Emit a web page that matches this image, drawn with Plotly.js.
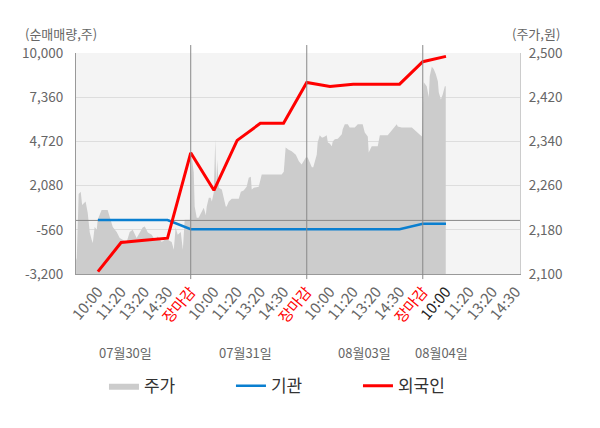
<!DOCTYPE html>
<html>
<head>
<meta charset="utf-8">
<script src="https://cdn.plot.ly/plotly-3.0.1.min.js"></script>
<style>
  html, body { margin: 0; padding: 0; background: #fff; }
  #myDiv { width: 600px; height: 428px; }
</style>
</head>
<body>
<div id="myDiv"></div>
<script>
// x positions are in label slots: 10:00 = 1, 11:20 = 2 ... 장마감 = 5, next day 10:00 = 6
const sessionLabels = ['10:00', '11:20', '13:20', '14:30', '장마감'];
const lastDayLabels = ['10:00', '11:20', '13:20', '14:30'];
const dayNames = ['07월30일', '07월31일', '08월03일', '08월04일'];
const dayNamePos = [2.17, 7.34, 12.51, 15.79];
const dayEnds = [5, 10, 15];

const leftTicks = [-3200, -560, 2080, 4720, 7360, 10000];
const rightTicks = [2100, 2180, 2260, 2340, 2420, 2500];

// 주가 (원), intraday
const priceX = [0.06, 0.09, 0.17, 0.26, 0.32, 0.47, 0.56, 0.65, 0.73, 0.78, 0.86, 0.95, 0.99,
  1.16, 1.42, 1.51, 1.64, 1.81, 1.94, 2.07, 2.24, 2.37, 2.50, 2.67, 2.80, 2.93, 3.02,
  3.15, 3.32, 3.45, 3.58, 3.75, 3.88, 4.01, 4.18, 4.27, 4.35, 4.44, 4.57, 4.66, 4.74, 4.96,
  5.04, 5.13, 5.17, 5.26, 5.34, 5.47, 5.56, 5.65, 5.69, 5.78, 5.86, 5.91, 5.99, 6.06, 6.10,
  6.14, 6.21, 6.34, 6.42, 6.51, 6.55, 6.64, 6.77, 7.07, 7.16, 7.28, 7.41, 7.50, 7.59, 7.63,
  7.72, 7.93, 8.06, 8.92, 9.01, 9.09, 9.22, 9.35, 9.53, 9.66, 9.78, 9.96,
  10.04, 10.13, 10.22, 10.28, 10.34, 10.43, 10.47, 10.56, 10.65, 10.69, 10.78, 10.86, 10.91,
  10.99, 11.08, 11.12, 11.21, 11.34, 11.51, 11.55, 11.64, 11.77, 11.85, 12.07, 12.20, 12.41,
  12.50, 12.63, 12.67, 12.80, 13.06, 13.15, 13.49, 13.58, 13.71, 13.88, 13.92, 14.09, 14.53,
  14.66, 14.78, 14.96,
  15.04, 15.17, 15.26, 15.30, 15.39, 15.47, 15.56, 15.65, 15.69, 15.78, 15.86, 15.95, 15.99];
const priceY = [2125, 2129, 2245, 2249, 2225, 2231, 2211, 2175, 2162, 2156, 2185, 2180, 2198,
  2216, 2216, 2204, 2185, 2176, 2165, 2162, 2158, 2176, 2180, 2165, 2175, 2184, 2186,
  2175, 2171, 2162, 2168, 2158, 2162, 2162, 2158, 2144, 2184, 2171, 2176, 2144, 2198, 2198,
  2313, 2284, 2222, 2202, 2202, 2213, 2220, 2207, 2222, 2238, 2238, 2231, 2247, 2344, 2260,
  2307, 2256, 2253, 2235, 2222, 2222, 2231, 2236, 2236, 2249, 2251, 2258, 2274, 2276, 2253,
  2256, 2258, 2280, 2280, 2285, 2329, 2325, 2322, 2316, 2304, 2298, 2311,
  2311, 2302, 2293, 2293, 2302, 2316, 2338, 2351, 2347, 2347, 2349, 2351, 2338,
  2336, 2331, 2340, 2344, 2345, 2353, 2362, 2371, 2371, 2365, 2365, 2371, 2371,
  2356, 2349, 2320, 2331, 2331, 2351, 2351, 2356, 2362, 2371, 2367, 2365, 2365,
  2360, 2356, 2349,
  2447, 2440, 2420, 2458, 2475, 2471, 2462, 2449, 2429, 2416, 2425, 2440, 2440];

// 순매매량 (주), cumulative per time slot
const flowX = [1, 2, 3, 4, 5, 6, 7, 8, 9, 10, 11, 12, 13, 14, 15, 16];
const institution = [20, 20, 20, 20, -520, -520, -520, -520, -520, -520, -520, -520, -520, -520, -200, -200];
const foreigner = [-3060, -1320, -1190, -1060, 4040, 1800, 4780, 5800, 5800, 8240, 8000, 8140, 8140, 8140, 9480, 9800];

const xRange = [0.056, 19.19];
const fontFam = '"Noto Sans CJK KR", "Noto Sans", sans-serif';

function comma(v) {
  return (v < 0 ? '-' : '') + Math.abs(v).toString().replace(/\B(?=(\d{3})+(?!\d))/g, ',');
}

var tickVals = [], tickText = [];
var slot = 1;
for (var d = 0; d < 3; d++) {
  sessionLabels.forEach(function (s) {
    tickVals.push(slot++);
    tickText.push(s === '장마감' ? '<span style="color:#ff0000">' + s + '</span>' : s);
  });
}
lastDayLabels.forEach(function (s, i) {
  tickVals.push(slot++);
  tickText.push(i === 0 ? '<span style="color:#222">' + s + '</span>' : s);
});

var tracePrice = {
  x: priceX,
  y: priceY,
  name: '주가',
  type: 'scatter',
  mode: 'lines',
  fill: 'tozeroy',
  fillcolor: '#cccccc',
  line: {width: 0, color: '#cccccc'},
  yaxis: 'y',
  hoverinfo: 'skip'
};

var traceZero = {
  x: xRange,
  y: [0, 0],
  type: 'scatter',
  mode: 'lines',
  line: {width: 1, color: '#888888'},
  yaxis: 'y2',
  showlegend: false,
  hoverinfo: 'skip'
};

var traceInst = {
  x: flowX,
  y: institution,
  name: '기관',
  type: 'scatter',
  mode: 'lines',
  line: {width: 2.5, color: '#0a7fd0'},
  yaxis: 'y2'
};

var traceForeign = {
  x: flowX,
  y: foreigner,
  name: '외국인',
  type: 'scatter',
  mode: 'lines',
  line: {width: 3, color: '#ff0000'},
  yaxis: 'y2'
};

var shapes = dayEnds.map(function (v) {
  return {
    type: 'line', xref: 'x', yref: 'paper',
    x0: v, x1: v, y0: -0.023, y1: 1.036,
    line: {color: '#888888', width: 1}
  };
});

var annotations = dayNames.map(function (t, i) {
  return {
    text: t, xref: 'x', yref: 'paper', x: dayNamePos[i], y: -0.357,
    showarrow: false, xanchor: 'center', yanchor: 'middle',
    font: {size: 13, color: '#666666'}
  };
});
annotations.push({
  text: '(순매매량,주)', xref: 'paper', yref: 'paper', x: -0.12, y: 1.09,
  showarrow: false, xanchor: 'left', yanchor: 'middle', font: {size: 13, color: '#666666'}
});
annotations.push({
  text: '(주가,원)', xref: 'paper', yref: 'paper', x: 1.094, y: 1.09,
  showarrow: false, xanchor: 'right', yanchor: 'middle', font: {size: 13, color: '#666666'}
});

var layout = {
  width: 600,
  height: 428,
  margin: {l: 76, r: 80, t: 53, b: 154},
  paper_bgcolor: '#ffffff',
  plot_bgcolor: '#f4f4f4',
  font: {family: fontFam, size: 13, color: '#666666'},
  showlegend: true,
  legend: {
    orientation: 'h',
    x: 0.063, xanchor: 'left',
    y: -0.508, yanchor: 'middle',
    entrywidth: 82, entrywidthmode: 'pixels',
    font: {size: 17, color: '#333333'},
    bgcolor: 'rgba(0,0,0,0)'
  },
  xaxis: {
    range: xRange,
    tickmode: 'array',
    tickvals: tickVals,
    ticktext: tickText,
    tickangle: -50,
    ticks: '',
    showgrid: false,
    zeroline: false,
    showline: true,
    linecolor: '#999999',
    ticklabelstandoff: 2,
    tickfont: {size: 15, color: '#666666'}
  },
  yaxis: {
    side: 'right',
    range: [2100, 2500],
    tickmode: 'array',
    tickvals: rightTicks,
    ticktext: rightTicks.map(comma),
    showgrid: true,
    gridcolor: '#dddddd',
    zeroline: false,
    showline: true,
    linecolor: '#cccccc',
    ticks: '',
    ticklabelstandoff: 5,
    tickfont: {size: 13.5, color: '#666666'}
  },
  yaxis2: {
    overlaying: 'y',
    side: 'left',
    range: [-3200, 10000],
    tickmode: 'array',
    tickvals: leftTicks,
    ticktext: leftTicks.map(comma),
    showgrid: false,
    zeroline: false,
    showline: true,
    linecolor: '#999999',
    ticks: '',
    ticklabelstandoff: 9,
    tickfont: {size: 13.5, color: '#666666'}
  },
  shapes: shapes,
  annotations: annotations
};

Plotly.newPlot('myDiv', [tracePrice, traceZero, traceInst, traceForeign], layout, {displayModeBar: false, staticPlot: true});
</script>
</body>
</html>
